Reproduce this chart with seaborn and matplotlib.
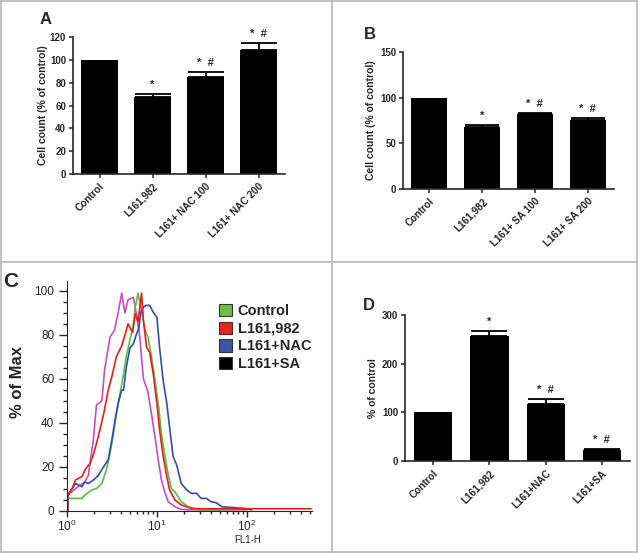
import numpy as np
import pandas as pd
import seaborn as sns
import matplotlib.pyplot as plt
from matplotlib.lines import Line2D
from matplotlib.patches import Patch
from matplotlib.ticker import LogLocator, MultipleLocator, NullFormatter

# panel A - cell count with NAC
groups_a = ["Control", "L161,982", "L161+ NAC 100", "L161+ NAC 200"]
count_a = [100, 67.5, 85.3, 108.3]
err_a = [0, 2.2, 4.2, 6.3]
marks_a = ["", "*", "*  #", "*  #"]

# panel B - cell count with SA
groups_b = ["Control", "L161,982", "L161+ SA 100", "L161+ SA 200"]
count_b = [100, 67.5, 82, 76]
err_b = [0, 2.7, 1.2, 1.8]
marks_b = ["", "*", "*  #", "*  #"]

# panel D - ROS % of control
groups_d = ["Control", "L161,982", "L161+NAC", "L161+SA"]
ros_d = [100, 257, 118, 22.5]
err_d = [0, 10, 9, 2]
marks_d = ["", "*", "*  #", "*  #"]

# panel C - flow histograms (log10 FL1-H, % of max)
ctrl_log = [0.01, 0.01, 0.09, 0.17, 0.20, 0.28, 0.33, 0.39, 0.44, 0.48, 0.52, 0.55, 0.59,
            0.63, 0.66, 0.70, 0.74, 0.76, 0.79, 0.83, 0.87, 0.90, 0.94, 0.98, 1.02, 1.05,
            1.09, 1.13, 1.16, 1.20, 1.24, 1.27, 1.35, 1.42, 1.49, 1.8]
ctrl_pct = [0, 5.5, 5.5, 5.5, 7, 9.4, 10, 12.3, 18.5, 26, 35, 44, 53,
            62, 70, 77.5, 85, 92.6, 99, 91, 82, 79, 70, 59, 47, 35,
            24.5, 15.4, 10, 8.5, 6, 4, 1.7, 0.7, 0.3, 0.3]

l161_log = [0.01, 0.01, 0.06, 0.10, 0.17, 0.21, 0.26, 0.30, 0.35, 0.41, 0.46, 0.50, 0.55,
            0.61, 0.65, 0.68, 0.73, 0.76, 0.79, 0.83, 0.85, 0.885, 0.92, 0.96, 1.0, 1.03,
            1.07, 1.11, 1.14, 1.20, 1.27, 1.38, 1.5, 2.0, 2.71]
l161_pct = [0, 7, 10, 14, 15.5, 19, 21.4, 26, 33.6, 44, 54.8, 60.8, 70,
            75, 80.5, 85, 81, 89.6, 86, 99, 86.6, 74.4, 72, 62, 48.7, 36.5,
            24.5, 15.4, 9.4, 4.8, 2.5, 1, 0.8, 0.8, 0.8]

nac_log = [0.01, 0.01, 0.05, 0.10, 0.17, 0.20, 0.24, 0.30, 0.35, 0.41, 0.46, 0.50, 0.535,
           0.57, 0.61, 0.63, 0.66, 0.70, 0.74, 0.775, 0.80, 0.82, 0.85, 0.88, 0.92, 0.95,
           0.97, 1.0, 1.03, 1.07, 1.11, 1.14, 1.18, 1.22, 1.27, 1.33, 1.38, 1.44, 1.49,
           1.55, 1.6, 1.66, 1.72, 1.8, 2.0, 2.05]
nac_pct = [0, 6.4, 9.4, 12.3, 10.8, 13, 12.3, 14, 16, 20, 23, 32, 41,
           48.7, 54.8, 54.8, 65, 74, 76, 80.5, 83, 90, 92.6, 93.4, 93.4, 91,
           89.6, 88, 74, 59, 48.7, 38, 24.5, 20.6, 12.3, 9.4, 7.8, 7.8, 5.5,
           5.5, 4, 3.5, 1.7, 1.5, 0.8, 0.3]

sa_log = [0.01, 0.01, 0.10, 0.20, 0.24, 0.27, 0.295, 0.33, 0.39, 0.42, 0.48, 0.53, 0.57,
          0.61, 0.645, 0.68, 0.74, 0.775, 0.81, 0.85, 0.90, 0.94, 0.98, 1.015, 1.05,
          1.09, 1.125, 1.2, 1.27, 1.35, 2.0]
sa_pct = [0, 7, 10, 13, 16, 25, 32, 48, 50, 64, 79, 82, 90,
          99, 90, 96, 97, 89, 79, 60, 54, 44, 33, 23, 14,
          8, 4, 1.7, 0.5, 0.3, 0.3]

W, H = 638, 553
sns.set_style("ticks")
plt.rcParams["font.family"] = ["Liberation Sans", "DejaVu Sans"]
plt.rcParams["mathtext.fontset"] = "custom"
plt.rcParams["mathtext.rm"] = "Liberation Sans"

fig = plt.figure(figsize=(W / 100, H / 100), dpi=100)


def rect(l, t, r, b):
    return [l / W, 1 - b / H, (r - l) / W, (b - t) / H]


def bar_panel(ax, groups, vals, errs, marks, top, step, ylabel, cap, lab_x):
    df = pd.DataFrame({"group": groups, "value": vals})
    sns.barplot(data=df, x="group", y="value", color="black", saturation=1,
                width=0.68, errorbar=None, linewidth=0, ax=ax)
    idx = [i for i, e in enumerate(errs) if e > 0]
    ax.errorbar(idx, [vals[i] for i in idx], yerr=[[0] * len(idx), [errs[i] for i in idx]],
                fmt="none", ecolor="black", elinewidth=1.3, capsize=cap, capthick=1.3)
    for i, (v, e, m) in enumerate(zip(vals, errs, marks)):
        if m:
            ax.annotate(m, (i, v + e), xytext=(0, 3), textcoords="offset points",
                        ha="center", va="bottom", fontsize=8, fontweight="bold")
    ax.set_xlim(-0.5, len(vals) - 0.5)
    ax.set_ylim(0, top)
    ax.yaxis.set_major_locator(MultipleLocator(step))
    ax.set_xlabel("")
    ax.set_ylabel(ylabel, fontsize=7.5, fontweight="bold")
    ax.yaxis.set_label_coords(lab_x, 0.5)
    ax.tick_params(length=3, width=1.1, pad=2, labelsize=7)
    ax.set_xticks(range(len(groups)))
    ax.set_xticklabels(groups, rotation=45, ha="right", rotation_mode="anchor",
                       fontweight="bold", fontsize=7.2)
    for lab in ax.get_yticklabels():
        lab.set_fontweight("bold")
    for s in ["left", "bottom"]:
        ax.spines[s].set_linewidth(1.2)
    sns.despine(ax=ax)


ax_a = fig.add_axes(rect(73, 37, 285, 174))
bar_panel(ax_a, groups_a, count_a, err_a, marks_a, 120, 20,
          "Cell count (% of control)", 13, -0.12)

ax_b = fig.add_axes(rect(403, 52, 614, 189))
bar_panel(ax_b, groups_b, count_b, err_b, marks_b, 150, 50,
          "Cell count (% of control)", 12, -0.13)

ax_d = fig.add_axes(rect(405, 315, 630, 461))
bar_panel(ax_d, groups_d, ros_d, err_d, marks_d, 300, 100,
          "% of control", 13, -0.12)

# panel C
ax_c = fig.add_axes(rect(66.7, 281, 311.7, 510.5))
curves = [(sa_log, sa_pct, "#c44fc0"), (ctrl_log, ctrl_pct, "#5cbd45"),
          (nac_log, nac_pct, "#2f4fa8"), (l161_log, l161_pct, "#e3201b")]
for lg, pct, col in curves:
    sns.lineplot(x=10 ** np.array(lg), y=pct, color=col, lw=1.2, sort=False,
                 estimator=None, ax=ax_c)
ax_c.set_xscale("log")
ax_c.set_xlim(1, 520)
ax_c.set_ylim(0, 104.5)
ax_c.xaxis.set_major_locator(LogLocator(base=10))
ax_c.xaxis.set_minor_locator(LogLocator(base=10, subs=np.arange(2, 10)))
ax_c.xaxis.set_minor_formatter(NullFormatter())
ax_c.yaxis.set_major_locator(MultipleLocator(20))
ax_c.yaxis.set_minor_locator(MultipleLocator(5))
ax_c.tick_params(axis="y", which="major", length=6, width=1, labelsize=8.5, pad=3)
ax_c.tick_params(axis="y", which="minor", length=3, width=1)
ax_c.tick_params(axis="x", which="major", length=4, width=1, labelsize=8.5, pad=2)
ax_c.tick_params(axis="x", which="minor", length=2.5, width=1)
ax_c.set_ylabel("% of Max", fontsize=12, fontweight="bold")
ax_c.yaxis.set_label_coords(-0.17, 0.56)
ax_c.set_xlabel("FL1-H", fontsize=7)
ax_c.xaxis.set_label_coords(0.74, -0.105)
sns.despine(ax=ax_c)
legend_names = ["Control", "L161,982", "L161+NAC", "L161+SA"]
legend_cols = ["#6cc04a", "#e8241c", "#3a57a7", "#000000"]
handles = [Patch(facecolor=c, edgecolor="#333333", lw=0.8, label=n)
           for n, c in zip(legend_names, legend_cols)]
ax_c.legend(handles=handles, loc="upper left", bbox_to_anchor=(0.62, 0.9),
            frameon=False, prop={"weight": "bold", "size": 10.5},
            handlelength=0.9, handleheight=0.9, handletextpad=0.4,
            labelspacing=0.25, borderaxespad=0, borderpad=0)

# panel letters
for letter, x, y, size in [("A", 46, 24, 12), ("B", 370, 39, 12),
                           ("C", 11, 287, 15), ("D", 369, 310, 12)]:
    fig.text(x / W, 1 - y / H, letter, ha="center", va="baseline",
             fontsize=size, fontweight="bold")

# frame lines
grey = "#b8b8b8"
for x in [1, 332, 636.5]:
    fig.add_artist(Line2D([x / W, x / W], [0, 1], color=grey, lw=1.2))
for y in [1, 261.5, 552]:
    fig.add_artist(Line2D([0, 1], [1 - y / H, 1 - y / H], color=grey, lw=1.2))

fig.savefig("out.png", dpi=100)
